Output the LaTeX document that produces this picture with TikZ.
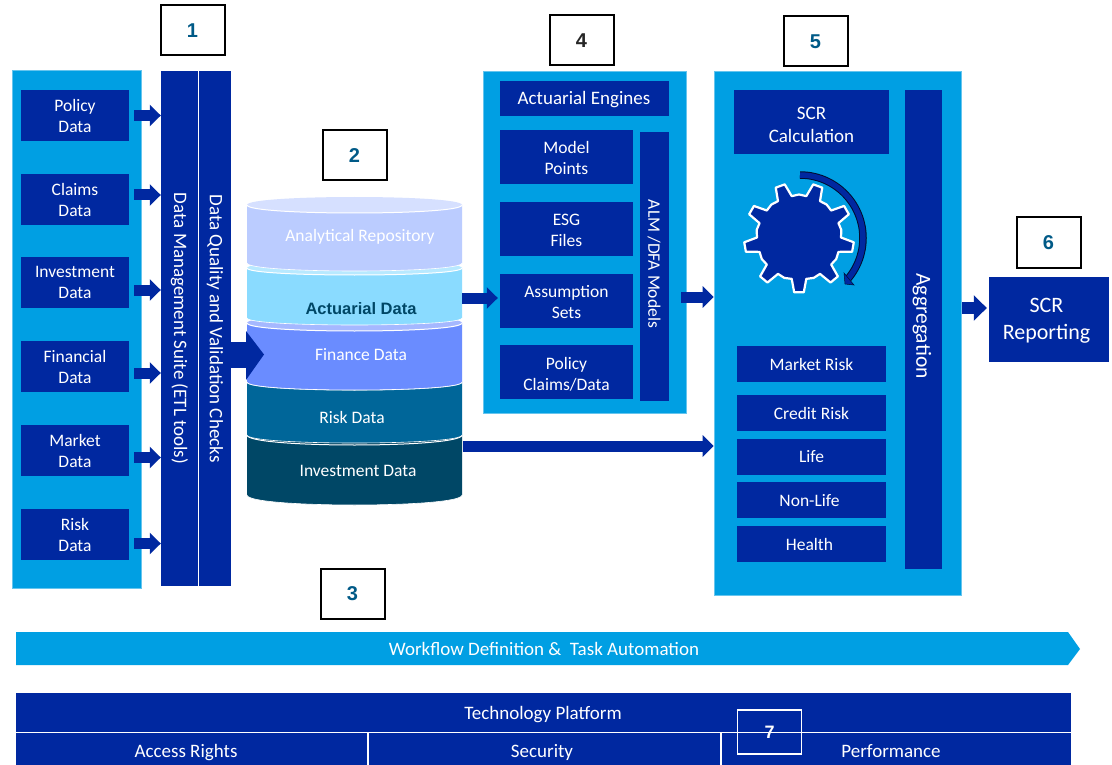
\documentclass[tikz,border=0pt]{standalone}
\usepackage{fontspec}
\setmainfont{Carlito}
\newfontfamily\arialf{Liberation Sans}
\usetikzlibrary{arrows.meta}
\definecolor{panelblue}{RGB}{0,159,227}
\definecolor{navyblue}{RGB}{0,40,160}
\definecolor{numteal}{RGB}{0,90,135}
\definecolor{cInv}{RGB}{0,71,102}
\definecolor{cRisk}{RGB}{0,102,153}
\definecolor{cFin}{RGB}{106,140,255}
\definecolor{cFinT}{RGB}{165,184,255}
\definecolor{cAct}{RGB}{138,219,255}
\definecolor{cActT}{RGB}{184,233,255}
\definecolor{cAna}{RGB}{187,204,255}
\definecolor{cAnaT}{RGB}{214,224,255}
\tikzset{
  txt/.style={text=white,align=center,inner sep=0pt,font=\fontsize{17.5}{21}\selectfont},
  bigtxt/.style={txt,font=\fontsize{19}{23}\selectfont},
  flow/.style={navyblue,line width=11pt,-{Triangle[length=11pt,width=21pt]}},
  panelbox/.style={fill=panelblue,draw=panelblue!60!white,line width=.6pt},
  numbox/.style={draw=black,line width=2pt,fill=white,inner sep=0pt,minimum width=64pt,minimum height=50pt,text=numteal,font=\arialf\bfseries\fontsize{20}{22}\selectfont},
}
% name, x0, y0, x1, y1, text
\newcommand{\rbox}[7][]{%
  \path ({(#3+#5)/2},{(#4+#6)/2}) node[txt,fill=navyblue,minimum width={(#5-#3)*1pt},minimum height={(#6-#4)*1pt},#1] (#2) {#7};}
\newcommand{\layer}[5]{% yt yb ry body top
  \fill[#4] (247,#1) -- (247,#2) .. controls (247,{#2+#3*4/3}) and (462,{#2+#3*4/3}) .. (462,#2) -- (462,#1) -- cycle;
  \draw[white,line width=.6pt] (247,#2) .. controls (247,{#2+#3*4/3}) and (462,{#2+#3*4/3}) .. (462,#2);
  \fill[#5] (247,#1) .. controls (247,{#1-#3*4/3}) and (462,{#1-#3*4/3}) .. (462,#1) .. controls (462,{#1+#3*4/3}) and (247,{#1+#3*4/3}) .. (247,#1) -- cycle;
  \draw[white,line width=1pt] (247,#1) .. controls (247,{#1+#3*4/3}) and (462,{#1+#3*4/3}) .. (462,#1);
}
\newcommand{\inflow}[2]{\draw[flow] ([xshift=5pt,yshift=#2pt]#1.east) coordinate (t#1) -- (t#1 -| dms.west);}
\begin{document}
\begin{tikzpicture}[x=1pt,y=-1pt]
\useasboundingbox (0,0) rectangle (1112,765);
\fill[white] (0,0) rectangle (1112,765);
% panels
\rbox[panelbox]{leftpanel}{12}{70}{141}{588}{}
\rbox[panelbox]{enginepanel}{483}{71}{686}{413}{}
\rbox[panelbox]{scrpanel}{714}{71}{961}{595}{}
% sources
\rbox{policy}{21}{90}{129}{141}{Policy\\Data}
\rbox{claims}{21}{174}{129}{225}{Claims\\Data}
\rbox{invest}{21}{257}{129}{308}{Investment\\Data}
\rbox{financial}{21}{341}{129}{392}{Financial\\Data}
\rbox{market}{21}{425}{129}{476}{Market\\Data}
\rbox{risk}{21}{509}{129}{560}{Risk\\Data}
% suite
\rbox{dms}{161}{71}{198}{586}{}
\rbox{dq}{199}{71}{231}{586}{}
\node[bigtxt,rotate=-90] (dmstext) at (dms.center) {Data Management Suite (ETL tools)};
\node[bigtxt,rotate=-90] (dqtext) at (dq.center) {Data Quality and Validation Checks};
\inflow{policy}{0}
\inflow{claims}{4.5}
\inflow{invest}{-7.5}
\inflow{financial}{-6.5}
\inflow{market}{-7}
\inflow{risk}{-9}
% cylinder
\layer{435}{495}{10}{cInv}{cInv}
\layer{382}{435}{8}{cRisk}{cRisk}
\layer{323}{382}{8}{cFin}{cFinT}
\layer{268}{318}{7}{cAct}{cActT}
\layer{205}{263}{8}{cAna}{cAnaT}
\node[txt] (analytical) at (360,236.5) {Analytical Repository};
\node[txt,text=cInv,font=\arialf\bfseries\fontsize{16.5}{18}\selectfont] (actuarial) at (361,308.5) {Actuarial Data};
\node[txt] (finance) at (361,354.5) {Finance Data};
\node[txt] (riskdata) at (352,417) {Risk Data};
\node[txt] (investdata) at (358,471) {Investment Data};
% engines
\rbox{engines}{500}{81}{669}{116}{}
\node[bigtxt] (enginestext) at (584,100) {Actuarial Engines};
\rbox{modelpts}{500}{130}{633}{184}{}
\node[txt] (modeltext) at (566.5,158) {Model\\Points};
\rbox{esg}{500}{202}{633}{256}{}
\node[txt] (esgtext) at (566.5,230) {ESG\\Files};
\rbox{assump}{500}{274}{633}{328}{}
\node[txt] (assumptext) at (566.5,302) {Assumption\\Sets};
\rbox{policyclaims}{500}{345}{633}{399}{}
\node[txt] (pctext) at (566.5,374) {Policy\\Claims/Data};
\rbox{alm}{640}{132}{669}{401}{}
\node[txt,rotate=-90] (almtext) at (654,264) {ALM /DFA Models};
% SCR
\rbox{scrcalc}{734}{90}{889}{154}{}
\node[bigtxt] (scrtext) at (811.5,124.5) {SCR\\Calculation};
\rbox{aggr}{905}{90}{942}{569}{}
\node[txt,rotate=-90,font=\fontsize{21.5}{24}\selectfont] (aggrtext) at (922,326) {Aggregation};
\rbox{marketrisk}{737}{346}{886}{382}{Market Risk}
\rbox{creditrisk}{737}{395}{886}{431}{Credit Risk}
\rbox{life}{737}{439}{886}{475}{Life}
\rbox{nonlife}{737}{482}{886}{518}{}
\node[txt] (nonlifetext) at (809.5,501) {Non-Life};
\rbox{health}{737}{526}{886}{562}{}
\node[txt] (healthtext) at (809.5,544.5) {Health};
\rbox{reporting}{989}{277}{1109}{362}{}
\node[txt,font=\fontsize{22}{27}\selectfont] (reptext) at (1046.5,321) {SCR\\Reporting};
% gear
\begin{scope}[shift={(799,237.5)}]
\draw[white,line width=2.2pt,line join=round,fill=navyblue]
  ({42*cos(80)},{42*sin(80)})
  \foreach \a in {90,130,170,210,250,290,330,370,410} {
    -- ({42*cos(\a-10)},{42*sin(\a-10)})
    -- ({55*cos(\a-5)},{55*sin(\a-5)})
    -- ({55*cos(\a+5)},{55*sin(\a+5)})
    -- ({42*cos(\a+10)},{42*sin(\a+10)})
    -- ({43*cos(\a+20)},{43*sin(\a+20)})
  } -- cycle;
\end{scope}
\begin{scope}[shift={(800,238)}]
\draw[black!70!navyblue,line width=7.5pt] plot[domain=-90:40,samples=40,smooth] ({63*cos(\x)},{63*sin(\x)});
\draw[navyblue,line width=5.5pt] plot[domain=-90:40,samples=40,smooth] ({63*cos(\x)},{63*sin(\x)});
\fill[navyblue,draw=black!70!navyblue,line width=.5pt] (44,35) -- (54,47) -- (45,46) -- cycle;
\end{scope}
% connectors between the main blocks
\coordinate (fstart) at (dq.east |- finance);
\coordinate (aa) at (462,298);
\coordinate (ea) at (681,297);
\coordinate (ia) at (463,446);
\coordinate (sa) at (962,308);
\draw[navyblue,line width=26pt] (fstart) -- (247,354.5);
\fill[navyblue] (246,331) -- (264,354.5) -- (246,380) -- cycle;
\draw[flow,shorten >=2pt] (aa) -- (aa -| assump.west);
\draw[flow] (ea) -- (ea -| scrpanel.west);
\draw[flow] (ia) -- (ia -| scrpanel.west);
\draw[navyblue,line width=12pt,-{Triangle[length=13pt,width=25pt]},shorten >=2pt] (sa) -- (sa -| reporting.west);
% bottom
\fill[panelblue] (16,632) -- (1068,632) -- (1080,649) -- (1068,665) -- (16,665) -- cycle;
\node[bigtxt,anchor=base] (workflow) at (544,655.5) {Workflow Definition \&\ \ Task Automation};
\rbox{techplat}{16}{693}{1071}{731.5}{}
\rbox{access}{16}{733}{367}{765}{}
\rbox{security}{369}{733}{720}{765}{}
\rbox{performance}{722}{733}{1071}{765}{}
\node[bigtxt,anchor=base] (techtext) at (543,719) {Technology Platform};
\node[bigtxt,anchor=base] (accesstext) at (186,757) {Access Rights};
\node[bigtxt,anchor=base] (securitytext) at (542,757) {Security};
\node[bigtxt,anchor=base] (perftext) at (891,757) {Performance};
% number boxes
\node[numbox] (n1) at (192.5,30.5) {1};
\node[numbox] (n2) at (354.5,155.5) {2};
\node[numbox] (n3) at (352.5,593.5) {3};
\node[numbox,text=black!85] (n4) at (581.5,40.5) {4};
\node[numbox] (n5) at (815.5,41.5) {5};
\node[numbox] (n6) at (1048.5,242.5) {6};
\node[draw=white,line width=1.6pt,inner sep=0pt,minimum width=64pt,minimum height=44pt,text=white,font=\arialf\bfseries\fontsize{18}{20}\selectfont] (n7) at (769.5,732) {7};
\end{tikzpicture}
\end{document}
